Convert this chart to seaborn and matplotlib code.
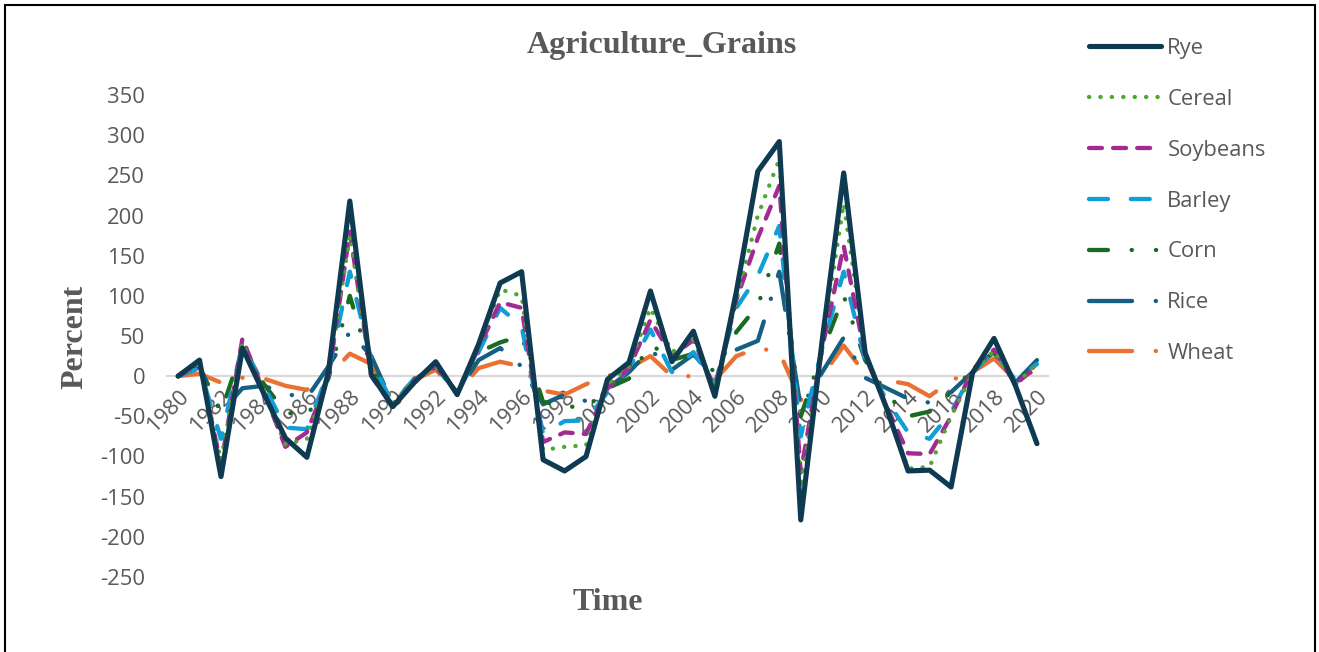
import matplotlib
matplotlib.use("Agg")
import matplotlib.pyplot as plt
from matplotlib.lines import Line2D
from matplotlib.patches import Rectangle
import numpy as np
import pandas as pd
import seaborn as sns

# ---- data -------------------------------------------------------------
years = list(range(1980, 2021))

rye = [0, 20, -125, 35, -22, -77, -101, 5, 218, 2,
       -38, -8, 18, -23, 40, 116, 130, -104, -118, -100,
       -4, 17, 106, 18, 56, -25, 105, 255, 292, -179,
       45, 253, 29, -40, -118, -117, -138, 4, 47, -12, -84]
cereal = [0, 15, -105, 42, -20, -85, -78, 0, 175, 5,
          -35, -5, 12, -20, 35, 108, 100, -92, -88, -86,
          -10, 12, 85, 30, 45, -15, 95, 200, 270, -140,
          40, 215, 28, -40, -115, -113, -50, 3, 32, -10, 15]
soybeans = [0, 15, -110, 47, -20, -88, -70, -3, 180, 0,
            -38, -5, 12, -20, 35, 92, 85, -82, -70, -72,
            -15, 10, 70, 25, 45, -15, 95, 172, 237, -120,
            35, 162, 25, -38, -96, -97, -50, 8, 33, -10, 12]
barley = [0, 10, -78, 40, -12, -64, -66, 5, 130, 20,
          -35, -3, 12, -22, 30, 85, 62, -72, -56, -55,
          -20, 10, 58, 5, 30, -10, 85, 125, 187, -75,
          35, 130, 20, -30, -70, -78, -45, 5, 30, -5, 15]
corn = [0, 12, -45, 35, -10, -45, -50, -3, 100, 10,
        -35, -3, 12, -20, 30, 42, 50, -32, -37, -40,
        -15, -3, 40, 20, 28, 5, 55, 88, 165, -50,
        30, 100, 20, -22, -50, -44, -20, 8, 30, -10, 22]
rice = [0, 12, -45, -15, -12, -22, -27, 12, 55, 25,
        -35, -5, 15, -20, 20, 35, 12, -35, -23, -31,
        -15, 5, 33, 8, 27, 0, 33, 44, 130, -40,
        5, 48, -2, -15, -28, -33, -20, 5, 30, -8, 20]
wheat = [0, 3, -8, -2, -3, -12, -17, 0, 28, 15,
         -30, -5, 8, -20, 10, 18, 12, -18, -23, -10,
         0, 10, 25, 0, 0, -5, 25, 35, 30, -30,
         0, 38, 3, -5, -10, -25, -5, 5, 22, -5, 8]

series_names = ["Rye", "Cereal", "Soybeans", "Barley", "Corn", "Rice", "Wheat"]
series_values = [rye, cereal, soybeans, barley, corn, rice, wheat]

y_ticks = list(range(-250, 351, 50))
x_tick_labels = [str(y) for y in years[::2]]

# ---- styling ----------------------------------------------------------
colors = {
    "Rye": "#0E3A52",
    "Cereal": "#4EA72E",
    "Soybeans": "#A02B93",
    "Barley": "#0F9ED5",
    "Corn": "#196B24",
    "Rice": "#156082",
    "Wheat": "#E97132",
}
styles = {
    "Rye": "-",
    "Cereal": (0, (0.05, 2.6)),
    "Soybeans": (0, (3.0, 2.6)),
    "Barley": (0, (4.4, 5.3)),
    "Corn": (0, (4.4, 5.5, 0.05, 5.6, 0.05, 5.5)),
    "Rice": (0, (10, 5.5, 0.05, 5.5)),
    "Wheat": (0, (10, 5.5, 0.05, 5.5)),
}
widths = {n: 3.1 for n in series_names}
widths["Rye"] = 3.7

TEXT = "#595959"

sns.set_theme(style="white")
plt.rcParams["font.family"] = ["Open Sans", "DejaVu Sans"]

frames = []
for name, vals in zip(series_names, series_values):
    frames.append(pd.DataFrame({"idx": np.arange(len(years)), "Percent": vals,
                                "Series": name}))
df = pd.concat(frames, ignore_index=True)

fig = plt.figure(figsize=(13.19, 6.52), dpi=100)
ax = fig.add_axes([167.3 / 1319, 1 - 577 / 652, (1047.7 - 167.3) / 1319, (577 - 95) / 652])

# draw so that the first series ends up on top
for name in reversed(series_names):
    sns.lineplot(data=df[df["Series"] == name], x="idx", y="Percent", ax=ax,
                 color=colors[name], linewidth=widths[name],
                 linestyle=styles[name], dash_capstyle="round",
                 solid_capstyle="round", solid_joinstyle="round",
                 dash_joinstyle="round", legend=False, errorbar=None)

# category axis crosses at zero
for s in ["top", "right", "left"]:
    ax.spines[s].set_visible(False)
ax.spines["bottom"].set_position(("data", 0))
ax.spines["bottom"].set_color("#D9D9D9")
ax.spines["bottom"].set_linewidth(1.5)
ax.spines["bottom"].set_zorder(0.5)

ax.set_xlim(-0.5, len(years) - 0.5)
ax.set_ylim(-250, 350)
ax.set_yticks(y_ticks)
ax.set_yticklabels([str(v) for v in y_ticks])
ax.set_xticks(np.arange(0, len(years), 2))
ax.set_xticklabels(x_tick_labels)
ax.set_xlabel("")
ax.set_ylabel("")
ax.grid(False)
ax.tick_params(axis="both", length=0, labelsize=15.8, labelcolor=TEXT)
ax.tick_params(axis="y", pad=16)
ax.tick_params(axis="x", pad=7, labelrotation=45)
for lbl in ax.get_xticklabels():
    lbl.set_ha("right")
    lbl.set_va("top")
    lbl.set_rotation_mode("anchor")

serif = ["Liberation Serif", "DejaVu Serif"]
fig.text(662 / 1319, 1 - 46 / 652, "Agriculture_Grains", ha="center", va="center",
         fontsize=23, fontweight="bold", family=serif, color=TEXT)
fig.text(75 / 1319, 1 - 337 / 652, "Percent", ha="center", va="center", rotation=90,
         fontsize=23, fontweight="bold", family=serif, color=TEXT)
fig.text(608 / 1319, 1 - 602 / 652, "Time", ha="center", va="center",
         fontsize=23, fontweight="bold", family=serif, color=TEXT)

handles = [Line2D([0], [0], color=colors[n], linewidth=widths[n], linestyle=styles[n],
                  dash_capstyle="round", solid_capstyle="round") for n in series_names]
fig.legend(handles, series_names, loc="upper left",
           bbox_to_anchor=(1089 / 1319, 1 - 38 / 652), frameon=False,
           handlelength=3.27, handletextpad=0.3, labelspacing=1.36,
           fontsize=15.8, labelcolor=TEXT, borderaxespad=0, borderpad=0)

# chart frame
fig.patches.append(Rectangle((5 / 1319, -0.05), 1310 / 1319, 1.05 - 5 / 652,
                             transform=fig.transFigure, fill=False,
                             edgecolor="black", linewidth=1.5))

fig.savefig("out.png", dpi=100)
